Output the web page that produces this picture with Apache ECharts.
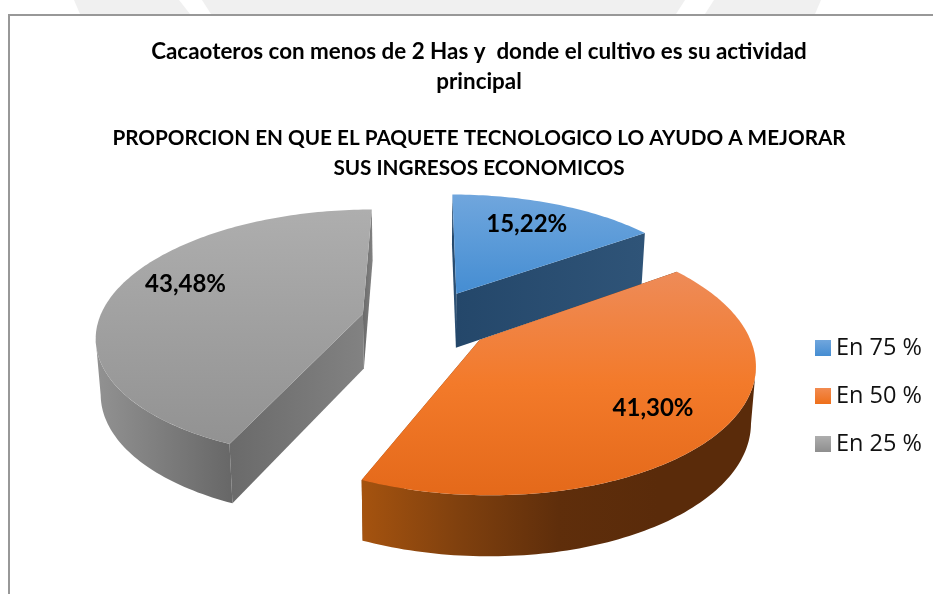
<!DOCTYPE html>
<html>
<head>
<meta charset="utf-8">
<style>html,body{margin:0;padding:0;background:#fff}#c{width:933px;height:594px}</style>
<script src="https://cdn.jsdelivr.net/npm/echarts@6/dist/echarts.min.js"></script>
</head>
<body>
<div id="c"></div>
<script>
// Data
const categories = ['En 75 %', 'En 50 %', 'En 25 %'];
const shares = [15.22, 41.30, 43.48];
const titleLines1 = 'Cacaoteros con menos de 2 Has y  donde el cultivo es su actividad\nprincipal';
const titleLines2 = 'PROPORCION EN QUE EL PAQUETE TECNOLOGICO LO AYUDO A MEJORAR\nSUS INGRESOS ECONOMICOS';

// Projection of the tilted disc
const VIEW = {x0: 427, y0: 320, rx: 264, ry: 123, persp: 0.162, depth: 55, explode: 0.25, shrink: 0.985};
// Label placement inside each slice: radial fraction, angle shift in degrees
const labelRadius = [0.74, 0.75, 0.76];
const labelTurn = [-2, 1, 8];
const zOrder = [2, 3, 1];

const ramp = (x2, y2, stops) => new echarts.graphic.LinearGradient(0, 0, x2, y2,
  stops.map((color, i) => ({offset: i / (stops.length - 1), color})));
const vert = (...stops) => ramp(0, 1, stops);
const horz = (...stops) => ramp(1, 0, stops);
const skins = [
  {top: vert('#70a6dd', '#5a9ad8', '#458dd2'), rim: horz('#24476a', '#2f5478'), wall: horz('#24476a', '#2f5478'), legend: vert('#70a6dd', '#458dd2')},
  {top: vert('#ee8b58', '#f37a2a', '#e4691a'), rim: horz('#a5530f', '#7f400e', '#5f2e0b', '#5a2b0a', '#5a2b0a'), wall: horz('#8a450f', '#5a2b08'), legend: vert('#f28b50', '#ee6f1a')},
  {top: vert('#aeaeae', '#a0a0a0', '#929292'), rim: horz('#929292', '#676767'), wall: horz('#6a6a6a', '#828282'), legend: vert('#aeaeae', '#8e8e8e')}
];

const total = shares.reduce((a, b) => a + b, 0);
const starts = [];
shares.reduce((acc, v, i) => { starts[i] = acc; return acc + v; }, 0);
const toAngle = v => v / total * 2 * Math.PI;

function project(mid, theta, f, lower) {
  const a = VIEW.explode * Math.sin(mid) + f * Math.sin(theta);
  const b = VIEW.explode * Math.cos(mid) + f * Math.cos(theta);
  const s = 1 / (1 + VIEW.persp * b);
  const sx = lower ? VIEW.shrink : 1;
  return [
    VIEW.x0 + VIEW.rx * a * s * sx,
    VIEW.y0 - VIEW.ry * b * s + (lower ? VIEW.depth * Math.sqrt(s) : 0)
  ];
}
function arc(mid, from, to, lower) {
  const n = Math.max(2, Math.ceil((to - from) / 0.02));
  const pts = [];
  for (let i = 0; i <= n; i++) pts.push(project(mid, from + (to - from) * i / n, 1, lower));
  return pts;
}
// Front-facing part of an outer wall: between the arc's rightmost and leftmost points
function frontRange(mid, from, to) {
  const lo = Math.max(from, Math.PI * 0.3), hi = Math.min(to, Math.PI * 1.7);
  if (hi <= lo) return null;
  const pts = arc(mid, lo, hi, false);
  let iMax = 0, iMin = 0;
  pts.forEach((p, i) => { if (p[0] > pts[iMax][0]) iMax = i; if (p[0] < pts[iMin][0]) iMin = i; });
  if (iMin <= iMax) return null;
  const step = (hi - lo) / (pts.length - 1);
  return [lo + iMax * step, lo + iMin * step];
}

function renderSlice(idx) {
  return function (params, api) {
    const value = api.value(0);
    const from = toAngle(starts[idx]);
    const to = from + toAngle(value);
    const mid = (from + to) / 2;
    const skin = skins[idx];
    const kids = [];
    const radial = th => ({
      type: 'polygon',
      shape: {points: [project(mid, th, 0, false), project(mid, th, 1, false), project(mid, th, 1, true), project(mid, th, 0, true)]},
      style: {fill: skin.wall}
    });
    kids.push(radial(from), radial(to));
    const range = frontRange(mid, from, to);
    if (range) {
      kids.push({
        type: 'polygon',
        shape: {points: arc(mid, range[0], range[1], false).concat(arc(mid, range[0], range[1], true).reverse())},
        style: {fill: skin.rim}
      });
    }
    kids.push({
      type: 'polygon',
      shape: {points: [project(mid, from, 0, false)].concat(arc(mid, from, to, false))},
      style: {fill: skin.top}
    });
    const lp = project(mid, mid + labelTurn[idx] * Math.PI / 180, labelRadius[idx], false);
    kids.push({
      type: 'text',
      z2: 50,
      style: {
        text: value.toFixed(2).replace('.', ',') + '%',
        x: lp[0], y: lp[1], align: 'center', verticalAlign: 'middle',
        font: 'bold 24px Lato', fill: '#000'
      }
    });
    return {type: 'group', children: kids};
  };
}

const chart = echarts.init(document.getElementById('c'), null, {renderer: 'canvas'});
chart.setOption({
  animation: false,
  backgroundColor: '#fff',
  title: [
    {text: titleLines1, left: 479, top: 37, padding: 0, textAlign: 'center',
     textStyle: {fontFamily: 'Lato', fontWeight: 'bold', fontSize: 22.4, lineHeight: 30, color: '#000'}},
    {text: titleLines2, left: 479, top: 123, padding: 0, textAlign: 'center',
     textStyle: {fontFamily: 'Lato', fontWeight: 'bold', fontSize: 20.7, lineHeight: 30, color: '#000'}}
  ],
  legend: {
    orient: 'vertical', left: 810, top: 328, itemWidth: 16, itemHeight: 16, itemGap: 18,
    icon: 'rect', data: categories, selectedMode: false,
    textStyle: {fontFamily: 'Open Sans', fontSize: 23.5, color: '#111', lineHeight: 30}
  },
  graphic: [
    {type: 'polygon', z: 0, silent: true, shape: {points: [[74, 0], [179, 0], [190, 14], [80, 14]]}, style: {fill: '#f0f0f0'}},
    {type: 'polygon', z: 0, silent: true, shape: {points: [[202, 0], [685, 0], [676, 14], [211, 14]]}, style: {fill: '#f0f0f0'}},
    {type: 'polygon', z: 0, silent: true, shape: {points: [[714, 0], [821, 0], [815, 14], [705, 14]]}, style: {fill: '#f0f0f0'}},
    {type: 'polyline', z: 0, silent: true, shape: {points: [[9, 594], [9, 15], [933, 15]]},
     style: {stroke: '#989898', lineWidth: 2, fill: null}}
  ],
  series: categories.map((name, i) => ({
    type: 'custom',
    name,
    z: zOrder[i] + 2,
    silent: true,
    coordinateSystem: 'none',
    itemStyle: {color: skins[i].legend},
    renderItem: renderSlice(i),
    data: [[shares[i]]]
  }))
});
</script>
</body>
</html>
